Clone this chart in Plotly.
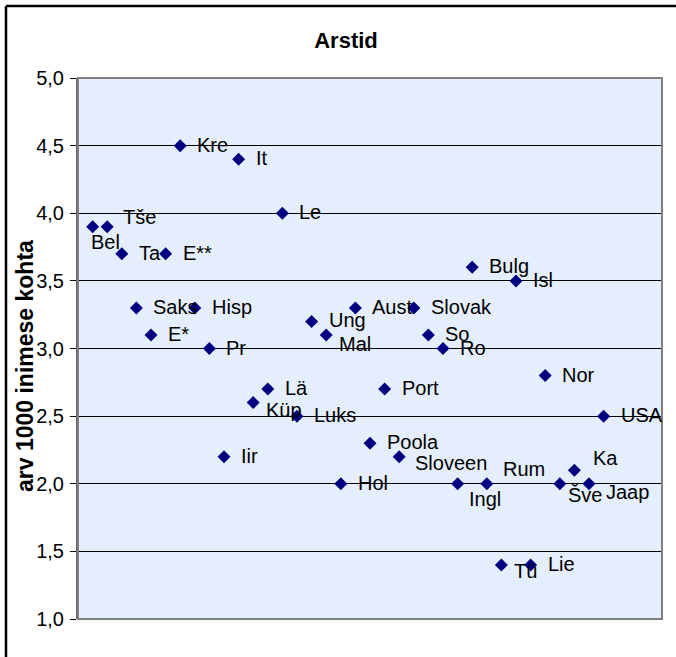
import plotly.graph_objects as go

# Doctors per 1000 inhabitants, by country (short Estonian names)
countries = ["Bel", "Tše", "Ta", "Saks", "E*", "E**", "Kre", "Hisp", "Pr", "Iir",
             "It", "Küp", "Lä", "Le", "Luks", "Ung", "Mal", "Hol", "Aust", "Poola",
             "Port", "Sloveen", "Slovak", "So", "Ro", "Ingl", "Bulg", "Rum", "Tü", "Isl",
             "Lie", "Nor", "Šve", "Ka", "Jaap", "USA"]
values = [3.9, 3.9, 3.7, 3.3, 3.1, 3.7, 4.5, 3.3, 3.0, 2.2,
          4.4, 2.6, 2.7, 4.0, 2.5, 3.2, 3.1, 2.0, 3.3, 2.3,
          2.7, 2.2, 3.3, 3.1, 3.0, 2.0, 3.6, 2.0, 1.4, 3.5,
          1.4, 2.8, 2.0, 2.1, 2.0, 2.5]
positions = list(range(1, len(countries) + 1))

y_ticks = [1.0, 1.5, 2.0, 2.5, 3.0, 3.5, 4.0, 4.5, 5.0]

# Label placement (pixel shifts) for labels not sitting plainly to the right
DEFAULT_SHIFT = (15, 1)
label_shift = {
    "Bel": (-4, -15), "Tše": (14, 10), "Küp": (11, -7), "Mal": (11, -9),
    "Ingl": (9, -15), "Rum": (14, 15), "Ka": (17, 12), "Šve": (6, -11),
    "Jaap": (15, -8), "Tü": (11, -6), "Sloveen": (14, -6),
}

W, H = 676, 657
L, R, T, B = 78, 14, 78, 38
pw, ph = W - L - R, H - T - B

FONT = "Liberation Sans, Arial, sans-serif"

fig = go.Figure()
fig.add_trace(go.Scatter(
    x=positions, y=values, mode="markers",
    marker=dict(symbol="diamond", size=10, color="#000080", line=dict(width=0)),
    hoverinfo="text", text=countries, showlegend=False,
))

annotations = []
for name, xv, yv in zip(countries, positions, values):
    dx, dy = label_shift.get(name, DEFAULT_SHIFT)
    annotations.append(dict(
        x=xv, y=yv, xref="x", yref="y", text=name, showarrow=False,
        xanchor="left", yanchor="middle", xshift=dx, yshift=dy,
        font=dict(family=FONT, size=20, color="black"),
    ))

# axis title
annotations.append(dict(
    x=(25 - L) / pw, y=(H - B - 366) / ph, xref="paper", yref="paper",
    text="<b>arv 1000 inimese kohta</b>", textangle=-90, showarrow=False,
    xanchor="center", yanchor="middle",
    font=dict(family=FONT, size=23, color="black"),
))

shapes = [
    # plot area frame
    dict(type="rect", xref="paper", yref="paper", x0=0, x1=1, y0=0, y1=1,
         line=dict(color="#808080", width=2), layer="above"),
    # outer chart frame (left and top edges)
    dict(type="line", xref="paper", yref="paper",
         x0=(6 - L) / pw, x1=(6 - L) / pw, y0=(H - B - 6) / ph, y1=(H - B - H - 5) / ph,
         line=dict(color="black", width=2.5)),
    dict(type="line", xref="paper", yref="paper",
         x0=(6 - L) / pw, x1=(W + 5 - L) / pw, y0=(H - B - 6) / ph, y1=(H - B - 6) / ph,
         line=dict(color="black", width=2.5)),
]

fig.update_layout(
    width=W, height=H,
    margin=dict(l=L, r=R, t=T, b=B, pad=0),
    paper_bgcolor="white", plot_bgcolor="#E5EEFC",
    separators=",.",
    title=dict(text="<b>Arstid</b>", x=346 / W, xanchor="center",
               y=1 - 40 / H, yanchor="middle", yref="container",
               font=dict(family=FONT, size=22, color="black")),
    xaxis=dict(range=[0, 40], showgrid=False, zeroline=False, showticklabels=False,
               ticks="", showline=False, fixedrange=True),
    yaxis=dict(range=[1, 5], tickvals=y_ticks, tickformat=".1f",
               showgrid=True, gridcolor="black", gridwidth=1, zeroline=False,
               showline=True, linecolor="#606060", linewidth=2,
               ticks="outside", ticklen=6, tickcolor="black", tickwidth=1,
               tickfont=dict(family=FONT, size=20, color="black"),
               ticklabelstandoff=2),
    annotations=annotations, shapes=shapes,
    font=dict(family=FONT),
)

fig.write_html("out.html")
